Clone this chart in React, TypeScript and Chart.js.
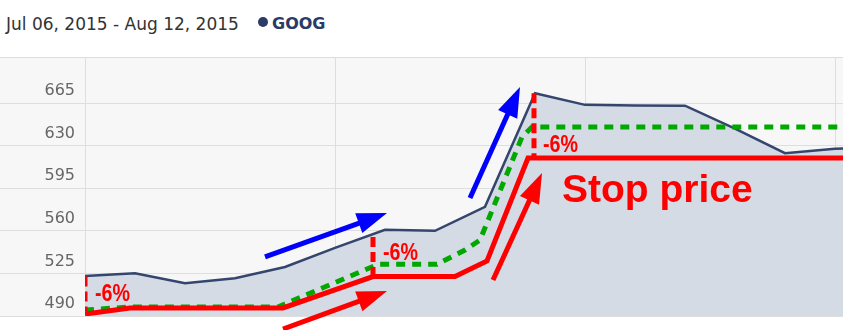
import React, { useEffect, useRef } from "react";
import { Chart, registerables } from "chart.js";

Chart.register(...registerables);

// ---- Data ----
const dates = [
  "Jul 06", "Jul 07", "Jul 08", "Jul 09", "Jul 10",
  "Jul 13", "Jul 14", "Jul 15", "Jul 16", "Jul 17",
  "Jul 20", "Jul 21", "Jul 22", "Jul 23", "Jul 24",
  "Jul 27", "Jul 28",
];
const goog = [
  522.9, 525.2, 517.0, 521.0, 530.3,
  546.0, 560.8, 560.0, 579.7, 673.0,
  663.5, 663.0, 662.8, 644.0, 623.8,
  627.5, 628.5,
];

const yTicks = [490, 525, 560, 595, 630, 665];

// red stop-price line (x = trading-day index)
const stopX = [0, 0.9, 3.96, 5.76, 7.4, 8.04, 8.86, 16];
const stopY = [491.6, 496.6, 496.6, 522.4, 522.4, 535.2, 619.8, 619.8];

// green dashed trailing line
const trailX = [0, 0.9, 3.86, 5.86, 7.04, 7.6, 7.9, 8.74, 8.94, 16];
const trailY = [494.9, 497.4, 497.4, 532.5, 532.5, 544.2, 552.4, 637.1, 645.3, 645.3];

// red dashed "-6%" gaps
const gapX = [0, 5.76, 8.98];
const gapTop = [522.4, 554.9, 673.0];
const gapBottom = [494.0, 522.4, 620.6];

// "-6%" labels
const pctText = ["-6%", "-6%", "-6%"];
const pctX = [0.2, 5.96, 9.16];
const pctY = [502.3, 536.0, 624.7];

// "Stop price" label
const stopLabel = "Stop price";
const stopLabelX = 9.54;
const stopLabelY = 583.7;

// arrows
const arrowTailX = [3.6, 3.96, 7.7, 8.16];
const arrowTailY = [538.5, 479.3, 587.0, 519.6];
const arrowTipX = [6.04, 6.04, 8.7, 9.14];
const arrowTipY = [574.6, 510.5, 678.2, 607.5];
const arrowKind = ["blue", "red", "blue", "red"];

const pts = (xs: number[], ys: number[]) => xs.map((x, i) => ({ x, y: ys[i] }));

function drawArrow(ctx: CanvasRenderingContext2D, x1: number, y1: number, x2: number, y2: number, color: string) {
  const ang = Math.atan2(y2 - y1, x2 - x1);
  const L = 30;
  const W = 10.5;
  const c = Math.cos(ang);
  const s = Math.sin(ang);
  const bx = x2 - L * c;
  const by = y2 - L * s;
  ctx.strokeStyle = color;
  ctx.fillStyle = color;
  ctx.lineWidth = 5;
  ctx.lineCap = "butt";
  ctx.beginPath();
  ctx.moveTo(x1, y1);
  ctx.lineTo(bx + 2 * c, by + 2 * s);
  ctx.stroke();
  ctx.beginPath();
  ctx.moveTo(x2, y2);
  ctx.lineTo(bx - W * s, by + W * c);
  ctx.lineTo(bx + W * s, by - W * c);
  ctx.closePath();
  ctx.fill();
}

const bgPlugin = {
  id: "bgPlugin",
  beforeDraw(chart: any) {
    const { ctx, chartArea: a, width, height, scales } = chart;
    ctx.save();
    ctx.fillStyle = "#f7f7f7";
    ctx.fillRect(0, 0, width, a.bottom);
    ctx.fillStyle = "#ffffff";
    ctx.fillRect(0, a.bottom, width, height - a.bottom);
    ctx.strokeStyle = "#dedede";
    ctx.lineWidth = 1;
    scales.y.ticks.forEach((t: any) => {
      const p = scales.y.getPixelForValue(t.value);
      const y = Math.round(p - 0.5) + 0.5;
      ctx.beginPath();
      ctx.moveTo(0, y);
      ctx.lineTo(a.left, y);
      ctx.stroke();
    });
    ctx.restore();
  },
};

const notesPlugin = {
  id: "notesPlugin",
  afterDatasetsDraw(chart: any) {
    const { ctx, scales } = chart;
    const X = (v: number) => scales.x.getPixelForValue(v);
    const Y = (v: number) => scales.y.getPixelForValue(v);
    ctx.save();
    for (let i = 0; i < arrowTailX.length; i++) {
      drawArrow(
        ctx,
        X(arrowTailX[i]), Y(arrowTailY[i]),
        X(arrowTipX[i]), Y(arrowTipY[i]),
        arrowKind[i] === "blue" ? "#0000ff" : "#ff0000"
      );
    }
    ctx.fillStyle = "#ff0000";
    ctx.textBaseline = "alphabetic";
    ctx.textAlign = "left";
    for (let i = 0; i < pctText.length; i++) {
      ctx.save();
      ctx.translate(X(pctX[i]), Y(pctY[i]));
      ctx.scale(0.82, 1);
      ctx.font = 'bold 24px "Liberation Sans", Arial, sans-serif';
      ctx.fillText(pctText[i], 0, 0);
      ctx.restore();
    }
    ctx.font = 'bold 39px "Liberation Sans", Arial, sans-serif';
    ctx.fillText(stopLabel, X(stopLabelX), Y(stopLabelY));
    ctx.restore();
  },
};

export default function App() {
  const ref = useRef<HTMLCanvasElement | null>(null);

  useEffect(() => {
    const canvas = ref.current;
    if (!canvas) return;
    const gapSets = gapX.map((gx, i) => ({
      label: "gap" + i,
      data: pts([gx, gx], [gapTop[i], gapBottom[i]]),
      borderColor: "#ff0000",
      borderWidth: 5,
      borderDash: [10, 5],
      pointRadius: 0,
      fill: false,
      order: 0,
    }));
    const chart = new Chart(canvas, {
      type: "line",
      data: {
        datasets: [
          ...gapSets,
          {
            label: "Stop",
            data: pts(stopX, stopY),
            borderColor: "#ff0000",
            borderWidth: 5,
            borderJoinStyle: "miter",
            pointRadius: 0,
            fill: false,
            order: 1,
          },
          {
            label: "Trail",
            data: pts(trailX, trailY),
            borderColor: "#00a800",
            borderWidth: 5,
            borderDash: [9, 7],
            pointRadius: 0,
            fill: false,
            order: 2,
          },
          {
            label: "GOOG",
            data: goog.map((v, i) => ({ x: i, y: v, d: dates[i] })),
            borderColor: "#34456e",
            borderWidth: 2.5,
            backgroundColor: "#d5dbe4",
            fill: "start",
            pointRadius: 0,
            tension: 0,
            order: 5,
          },
        ] as any,
      },
      options: {
        animation: false,
        responsive: false,
        devicePixelRatio: 1,
        layout: { padding: 0 },
        plugins: { legend: { display: false }, tooltip: { enabled: false } },
        scales: {
          x: {
            type: "linear",
            min: 0,
            max: 15.16,
            ticks: { display: false, stepSize: 5, includeBounds: false },
            grid: { color: "#dedede", drawTicks: false },
            border: { display: false },
            afterFit: (s: any) => {
              s.height = 14;
              s.paddingLeft = 0;
              s.paddingRight = 0;
            },
          },
          y: {
            type: "linear",
            min: 490,
            max: 702,
            afterBuildTicks: (s: any) => {
              s.ticks = yTicks.map((v) => ({ value: v }));
            },
            ticks: {
              color: "#666666",
              font: { family: "DejaVu Sans", size: 16 },
              padding: 10,
              labelOffset: -12,
            },
            grid: { color: "#dedede", drawTicks: false },
            border: { display: false },
            afterFit: (s: any) => {
              s.width = 85;
              s.paddingTop = 0;
              s.paddingBottom = 0;
            },
          },
        },
      } as any,
      plugins: [bgPlugin, notesPlugin],
    });
    return () => chart.destroy();
  }, []);

  return (
    <div
      style={{
        position: "absolute",
        left: 0,
        top: 0,
        width: 843,
        height: 330,
        background: "#ffffff",
        overflow: "hidden",
      }}
    >
      <div
        style={{
          position: "relative",
          height: 57,
          borderBottom: "1px solid #dcdcdc",
          background: "#ffffff",
        }}
      >
        <span
          style={{
            position: "absolute",
            left: 6,
            top: 16,
            fontFamily: '"DejaVu Sans", Verdana, sans-serif',
            fontSize: 17,
            lineHeight: "17px",
            color: "#333333",
            whiteSpace: "nowrap",
          }}
        >
          Jul 06, 2015 - Aug 12, 2015
        </span>
        <span
          style={{
            position: "absolute",
            left: 258,
            top: 17,
            width: 10,
            height: 10,
            borderRadius: 5,
            background: "#2b3a67",
          }}
        />
        <span
          style={{
            position: "absolute",
            left: 272,
            top: 16,
            fontFamily: '"DejaVu Sans", Verdana, sans-serif',
            fontWeight: "bold",
            fontSize: 16,
            lineHeight: "16px",
            color: "#2b3a67",
            whiteSpace: "nowrap",
          }}
        >
          GOOG
        </span>
      </div>
      <canvas ref={ref} width={843} height={272} style={{ display: "block", width: 843, height: 272 }} />
    </div>
  );
}
